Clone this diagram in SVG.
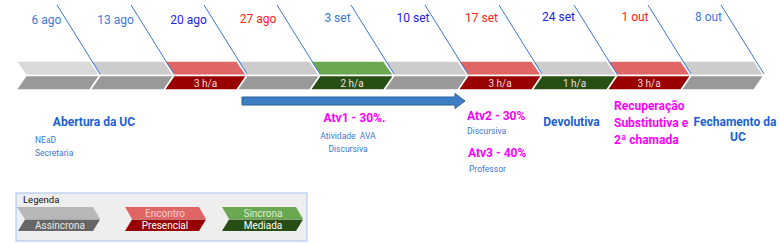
<svg xmlns="http://www.w3.org/2000/svg" width="780" height="244" viewBox="0 0 780 244">
<style>
.seg{stroke:#ffffff;stroke-width:1.5}
.gt{fill:#cccccc}.gb{fill:#999999}
.rt{fill:#e06666}.rb{fill:#990000}
.vt{fill:#6aa84f}.vb{fill:#274e13}
.tick{stroke:#3c78d8;stroke-width:1;fill:none}
.d{font-family:Roboto,"Liberation Sans",sans-serif;font-size:12px;text-anchor:middle}
.b1{fill:#3c78d8}.b2{fill:#2222e6}.r{fill:#ff2020}
.ha{font-family:Roboto,"Liberation Sans",sans-serif;font-size:10px;fill:#f2dede;text-anchor:middle}
.bold{font-family:Roboto,"Liberation Sans",sans-serif;font-size:12px;font-weight:bold}
.blue{fill:#1a5fd6}.mag{fill:#ff00ff}
.sm{font-family:Roboto,"Liberation Sans",sans-serif;font-size:8.5px;fill:#3c78d8}
.lg{font-family:Roboto,"Liberation Sans",sans-serif;font-size:10px;text-anchor:middle}
</style>
<rect width="780" height="244" fill="#ffffff"/>
<g id="timeline">
<g id="seg0"><polygon class="seg" fill="#d9d9d9" points="16,61 90,61 100,75.5 26,75.5"/><polygon class="seg gb" points="26,75.5 100,75.5 90,90 16,90"/></g>
<g id="seg1"><polygon class="seg gt" points="90,61 164,61 174,75.5 100,75.5"/><polygon class="seg gb" points="100,75.5 174,75.5 164,90 90,90"/></g>
<g id="seg2"><polygon class="seg rt" points="164,61 237,61 247,75.5 174,75.5"/><polygon class="seg rb" points="174,75.5 247,75.5 237,90 164,90"/><text class="ha" x="205.5" y="86.5">3 h/a</text></g>
<g id="seg3"><polygon class="seg gt" points="237,61 310,61 320,75.5 247,75.5"/><polygon class="seg gb" points="247,75.5 320,75.5 310,90 237,90"/></g>
<g id="seg4"><polygon class="seg vt" points="310,61 384,61 394,75.5 320,75.5"/><polygon class="seg vb" points="320,75.5 394,75.5 384,90 310,90"/><text class="ha" x="352" y="86.5">2 h/a</text></g>
<g id="seg5"><polygon class="seg gt" points="384,61 458,61 468,75.5 394,75.5"/><polygon class="seg gb" points="394,75.5 468,75.5 458,90 384,90"/></g>
<g id="seg6"><polygon class="seg rt" points="458,61 532,61 542,75.5 468,75.5"/><polygon class="seg rb" points="468,75.5 542,75.5 532,90 458,90"/><text class="ha" x="500" y="86.5">3 h/a</text></g>
<g id="seg7"><polygon class="seg gt" points="532,61 607,61 617,75.5 542,75.5"/><polygon class="seg vb" points="542,75.5 617,75.5 607,90 532,90"/><text class="ha" x="574.5" y="86.5">1 h/a</text></g>
<g id="seg8"><polygon class="seg rt" points="607,61 681,61 691,75.5 617,75.5"/><polygon class="seg rb" points="617,75.5 691,75.5 681,90 607,90"/><text class="ha" x="649" y="86.5">3 h/a</text></g>
<g id="seg9"><polygon class="seg gt" points="681,61 754,61 764,75.5 691,75.5"/><polygon class="seg gb" points="691,75.5 764,75.5 754,90 681,90"/></g>
</g>
<g id="connectors">
<line class="tick" x1="57" y1="5" x2="100" y2="74"/>
<line class="tick" x1="131" y1="5" x2="174" y2="74"/>
<line class="tick" x1="204" y1="5" x2="247" y2="74"/>
<line class="tick" x1="277" y1="5" x2="320" y2="74"/>
<line class="tick" x1="351" y1="5" x2="394" y2="74"/>
<line class="tick" x1="425" y1="5" x2="468" y2="74"/>
<line class="tick" x1="499" y1="5" x2="542" y2="74"/>
<line class="tick" x1="574" y1="5" x2="617" y2="74"/>
<line class="tick" x1="648" y1="5" x2="691" y2="74"/>
<line class="tick" x1="721" y1="5" x2="764" y2="74"/>
<polygon fill="#3d7fc4" stroke="#2f5f95" stroke-width="1" points="242,97 455,97 455,93.5 465,101 455,108.5 455,105 242,105"/>
</g>
<g id="dates">
<text class="d b1" x="46.5" y="24">6 ago</text>
<text class="d b1" x="115.5" y="24">13 ago</text>
<text class="d b2" x="188.5" y="24">20 ago</text>
<text class="d r" x="258" y="23">27 ago</text>
<text class="d b1" x="337.5" y="22">3 set</text>
<text class="d b2" x="413" y="22">10 set</text>
<text class="d r" x="481.5" y="21.5">17 set</text>
<text class="d b2" x="558.5" y="20.5">24 set</text>
<text class="d r" x="635" y="20.5">1 out</text>
<text class="d b1" x="708.5" y="20.5">8 out</text>
</g>
<g id="abertura">
<text class="bold blue" x="94" y="126" text-anchor="middle">Abertura da UC</text>
<text class="sm" x="35" y="143">NEaD</text>
<text class="sm" x="35" y="156">Secretaria</text>
</g>
<g id="atv1">
<text class="bold mag" x="354.5" y="122" text-anchor="middle">Atv1 - 30%.</text>
<text class="sm" x="348" y="138.5" text-anchor="middle">Atividade&#160; AVA</text>
<text class="sm" x="348" y="152" text-anchor="middle">Discursiva</text>
</g>
<g id="atv2">
<text class="bold mag" x="467" y="119.5">Atv2 - 30%</text>
<text class="sm" x="467" y="133.5">Discursiva</text>
</g>
<g id="atv3">
<text class="bold mag" x="468" y="157">Atv3 - 40%</text>
<text class="sm" x="469" y="172">Professor</text>
</g>
<g id="devolutiva">
<text class="bold blue" x="571.5" y="126" text-anchor="middle">Devolutiva</text>
</g>
<g id="recuperacao">
<text class="bold mag" x="614" y="109.5">Recuperação</text>
<text class="bold mag" x="614" y="126.5">Substitutiva e</text>
<text class="bold mag" x="614" y="143.5">2ª chamada</text>
</g>
<g id="fechamento">
<text class="bold blue" x="735" y="126" text-anchor="middle" font-size="11">Fechamento da</text>
<text class="bold blue" x="738" y="140.5" text-anchor="middle">UC</text>
</g>
<g id="legenda">
<rect x="16" y="193" width="291" height="48" fill="#eeeeee" stroke="#a4c2f4" stroke-width="1"/>
<text x="23" y="202.5" font-family="Roboto,'Liberation Sans',sans-serif" font-size="9.5" fill="#111111">Legenda</text>
<g id="leg-async"><polygon fill="#b7b7b7" points="17,207 93,207 100,219 25,219"/><polygon fill="#666666" points="25,219.5 100,219.5 93,231 18,231"/><text class="lg" x="60" y="228.5" fill="#e6e6e6">Assíncrona</text></g>
<g id="leg-pres"><polygon fill="#e06666" points="125,207 199,207 206,219 132,219"/><polygon fill="#990000" points="132,219.5 206,219.5 199,231 125,231"/><text class="lg" x="165" y="216.5" fill="#f4cccc">Encontro</text><text class="lg" x="165" y="228.5" fill="#ffffff">Presencial</text></g>
<g id="leg-sinc"><polygon fill="#6aa84f" points="222,207 296,207 303,219 229,219"/><polygon fill="#274e13" points="229,219.5 303,219.5 296,231 222,231"/><text class="lg" x="263" y="216.5" fill="#d9ead3">Sincrona</text><text class="lg" x="263" y="228.5" fill="#ffffff">Mediada</text></g>
</g>
</svg>
